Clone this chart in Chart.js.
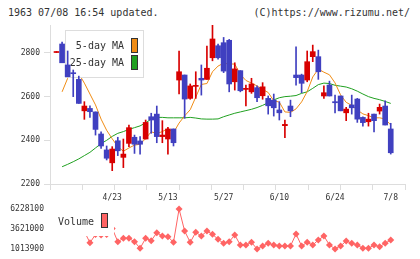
<!DOCTYPE html>
<html>
<head>
<meta charset="utf-8">
<script src="https://cdn.jsdelivr.net/npm/chart.js@4.4.1/dist/chart.umd.min.js"></script>
<style>
  body { margin: 0; background: #fff; width: 420px; height: 259px; overflow: hidden; position: relative; font-family: "DejaVu Sans Mono", monospace; }
  canvas { position: absolute; left: 0; }
  #priceChart { top: 0; }
  #volChart { top: 200px; }
  .hdr { position: absolute; top: 7px; font-size: 10px; line-height: 12px; color: #333; white-space: pre; }
</style>
</head>
<body>
<div class="hdr" style="left:8px">1963 07/08 16:54 updated.</div>
<div class="hdr" style="right:10px">(C)https://www.rizumu.net/</div>
<canvas id="priceChart" width="420" height="205"></canvas>
<canvas id="volChart" width="420" height="59"></canvas>
<script>
// daily candles, oldest first (61 trading days)
const opens = [2802, 2841, 2745, 2709, 2679, 2535, 2546, 2530, 2429, 2356,
  2297, 2398, 2322, 2386, 2414, 2397, 2406, 2508, 2520, 2417,
  2406, 2452, 2676, 2699, 2592, 2647, 2684, 2679, 2778, 2833,
  2847, 2858, 2668, 2719, 2633, 2622, 2641, 2604, 2592, 2584,
  2539, 2467, 2557, 2699, 2699, 2676, 2783, 2783, 2603, 2653,
  2577, 2603, 2526, 2562, 2589, 2505, 2485, 2520, 2534, 2557, 2452];
const highs = [2804, 2850, 2809, 2722, 2694, 2577, 2558, 2530, 2439, 2374,
  2371, 2414, 2406, 2470, 2424, 2417, 2493, 2524, 2557, 2490,
  2460, 2452, 2809, 2699, 2658, 2714, 2745, 2832, 2928, 2841,
  2871, 2862, 2755, 2719, 2653, 2684, 2649, 2664, 2603, 2612,
  2577, 2493, 2584, 2828, 2703, 2809, 2836, 2813, 2649, 2671,
  2607, 2603, 2551, 2607, 2592, 2508, 2524, 2520, 2566, 2581, 2478];
const lows = [2802, 2755, 2691, 2600, 2569, 2496, 2505, 2424, 2363, 2310,
  2261, 2330, 2275, 2371, 2340, 2337, 2406, 2432, 2389, 2389,
  2337, 2374, 2612, 2501, 2588, 2592, 2607, 2679, 2764, 2771,
  2710, 2622, 2630, 2622, 2557, 2615, 2577, 2588, 2520, 2511,
  2493, 2412, 2508, 2653, 2618, 2668, 2760, 2679, 2592, 2603,
  2526, 2535, 2490, 2520, 2482, 2465, 2465, 2439, 2520, 2470, 2337];
const closes = [2803, 2755, 2691, 2705, 2569, 2557, 2531, 2450, 2374, 2318,
  2360, 2352, 2337, 2458, 2382, 2382, 2482, 2493, 2417, 2424,
  2452, 2389, 2714, 2589, 2649, 2651, 2676, 2730, 2864, 2778,
  2717, 2658, 2727, 2627, 2638, 2658, 2595, 2645, 2558, 2549,
  2526, 2473, 2535, 2687, 2661, 2760, 2806, 2714, 2618, 2603,
  2572, 2535, 2543, 2549, 2497, 2481, 2497, 2490, 2551, 2470, 2343];

const ma5 = [null, 2622, 2684, 2712, 2705, 2662, 2612, 2562, 2497, 2446,
  2407, 2371, 2350, 2365, 2378, 2382, 2408, 2439, 2431, 2440,
  2454, 2435, 2479, 2512, 2540, 2598, 2656, 2660, 2714, 2740,
  2753, 2750, 2749, 2702, 2674, 2662, 2649, 2633, 2619, 2581,
  2575, 2530, 2528, 2544, 2576, 2623, 2690, 2726, 2712, 2700,
  2663, 2608, 2574, 2560, 2539, 2521, 2513, 2503, 2503, 2498, 2470];
const ma25 = [null, 2279, 2290, 2302, 2315, 2330, 2345, 2365, 2385, 2400,
  2418, 2432, 2440, 2450, 2458, 2466, 2480, 2497, 2505, 2505,
  2503, 2503, 2503, 2503, 2505, 2502, 2498, 2497, 2497, 2498,
  2508, 2516, 2524, 2530, 2536, 2542, 2550, 2560, 2572, 2585,
  2595, 2600, 2602, 2605, 2615, 2622, 2638, 2655, 2662, 2660,
  2652, 2648, 2644, 2636, 2625, 2612, 2600, 2592, 2586, 2578, 2569];

const volumes = [3300000, 3300000, 3350000, 3400000, 3350000, 3300000, 1835000, 2900000, 2850000, 2900000,
  3700000, 1965000, 2409000, 2409000, 1965000, 1105000, 2409000, 2096000, 3139000, 2708000,
  2617000, 1887000, 6228100, 3360000, 1887000, 3191000, 2708000, 3360000, 2930000, 2278000,
  1757000, 1965000, 2839000, 1535000, 1535000, 1887000, 1013900, 1405000, 1757000, 1535000,
  1405000, 1405000, 1405000, 2969000, 1405000, 1887000, 1535000, 2187000, 2708000, 1535000,
  1030000, 1405000, 2057000, 1757000, 1535000, 1105000, 1105000, 1535000, 1314000, 1757000, 2187000];

const dateIdx = [10, 20, 30, 40, 50, 60];
const dateLabels = ['4/23', '5/13', '5/27', '6/10', '6/24', '7/8'];
const priceTicks = [2200, 2400, 2600, 2800];
const volTicks = [1013900, 3621000, 6228100];

const RED = '#d80000';
const BLUE = '#4040c0';
const ORANGE = '#f08c14';
const GREEN = '#20a020';
const VOLCOL = '#ff6464';
const xMin = -1.17, xMax = 62.56;
const monoFont = { family: '"DejaVu Sans Mono", monospace', size: 8 };

const idx = closes.map((c, i) => i);
const candleColor = idx.map(i => closes[i] >= opens[i] ? RED : BLUE);

// legend box drawn over the MA lines but under the candles
const maLegend = {
  id: 'maLegend',
  afterDatasetDraw(chart, args) {
    if (!chart.data.datasets[args.index].legendAfter) return;
    const ctx = chart.ctx;
    ctx.save();
    ctx.fillStyle = '#fff';
    ctx.fillRect(65, 30, 78, 47);
    ctx.strokeStyle = '#ddd';
    ctx.lineWidth = 1;
    ctx.strokeRect(65.5, 30.5, 78, 47);
    ctx.font = '10px "DejaVu Sans Mono", monospace';
    ctx.textAlign = 'right';
    ctx.textBaseline = 'middle';
    [chart.data.datasets[0], chart.data.datasets[1]].forEach((ds, k) => {
      const y = 46 + k * 17;
      ctx.fillStyle = '#333';
      ctx.fillText(ds.label, 124, y);
      ctx.fillStyle = ds.borderColor;
      ctx.fillRect(131, y - 8, 7, 15);
      ctx.strokeStyle = '#333';
      ctx.strokeRect(131.5, y - 7.5, 6, 14);
    });
    ctx.restore();
  }
};

new Chart(document.getElementById('priceChart'), {
  type: 'bar',
  data: {
    datasets: [
      {
        type: 'line', label: '5-day MA', order: 2, legendAfter: true,
        data: idx.map(i => ({ x: i, y: ma5[i] })),
        borderColor: ORANGE, borderWidth: 1, pointRadius: 0, tension: 0
      },
      {
        type: 'line', label: '25-day MA', order: 3,
        data: idx.map(i => ({ x: i, y: ma25[i] })),
        borderColor: GREEN, borderWidth: 1, pointRadius: 0, tension: 0
      },
      {
        label: 'wick', order: 1,
        data: idx.map(i => ({ x: i, y: [lows[i], highs[i]] })),
        backgroundColor: candleColor, barThickness: 1, grouped: false, minBarLength: 1
      },
      {
        label: 'body', order: 0,
        data: idx.map(i => ({ x: i, y: [opens[i], closes[i]] })),
        backgroundColor: candleColor, barThickness: 5, grouped: false, minBarLength: 1
      }
    ]
  },
  options: {
    responsive: false,
    animation: false,
    devicePixelRatio: 1,
    layout: { padding: { top: 25, right: 15, left: 0, bottom: 0 } },
    plugins: { legend: { display: false }, tooltip: { enabled: false } },
    scales: {
      x: {
        type: 'linear', min: xMin, max: xMax, bounds: 'data', offset: false, weight: 0,
        grid: { drawOnChartArea: false, offset: false, color: '#ddd', tickLength: 6 },
        border: { color: '#ddd' },
        ticks: { display: false },
        afterBuildTicks: s => {
          const step = (xMax - xMin) / 11;
          s.ticks = Array.from({ length: 12 }, (_, k) => ({ value: xMin + k * step }));
        },
        afterFit: s => { s.height = 6; }
      },
      xDate: {
        type: 'linear', position: 'bottom', min: xMin, max: xMax, bounds: 'data', offset: false, weight: 1,
        grid: { display: false, drawTicks: false, offset: false },
        border: { display: false },
        ticks: {
          padding: 3, maxRotation: 0, autoSkip: false, color: '#333', font: monoFont,
          callback: v => dateLabels[dateIdx.indexOf(v)]
        },
        afterBuildTicks: s => { s.ticks = dateIdx.map(v => ({ value: v })); },
        afterFit: s => { s.height = 15; }
      },
      y: {
        type: 'linear', min: 2200, max: Math.max(...highs),
        grid: { drawOnChartArea: false, color: '#ddd', tickLength: 6 },
        border: { color: '#ddd' },
        ticks: { padding: 4, color: '#333', font: monoFont, callback: v => String(v) },
        afterBuildTicks: s => { s.ticks = priceTicks.map(v => ({ value: v })); },
        afterFit: s => { s.width = 50; }
      }
    }
  },
  plugins: [maLegend]
});

const volLegend = {
  id: 'volLegend',
  afterDatasetsDraw(chart) {
    const ctx = chart.ctx;
    ctx.save();
    ctx.fillStyle = '#fff';
    ctx.fillRect(48, 4, 66, 32);
    ctx.font = '10px "DejaVu Sans Mono", monospace';
    ctx.fillStyle = '#333';
    ctx.textAlign = 'left';
    ctx.textBaseline = 'middle';
    ctx.fillText(chart.data.datasets[0].label, 58, 22);
    ctx.fillStyle = VOLCOL;
    ctx.fillRect(101, 13, 7, 15);
    ctx.strokeStyle = '#333';
    ctx.lineWidth = 1;
    ctx.strokeRect(101.5, 13.5, 6, 14);
    ctx.restore();
  }
};

new Chart(document.getElementById('volChart'), {
  type: 'line',
  data: {
    datasets: [{
      label: 'Volume',
      data: idx.map(i => ({ x: i, y: volumes[i] })),
      borderColor: VOLCOL, borderWidth: 1, tension: 0,
      pointStyle: 'rectRot', pointRadius: 3.5, pointBackgroundColor: VOLCOL, pointBorderWidth: 0,
      clip: false
    }]
  },
  options: {
    responsive: false,
    animation: false,
    devicePixelRatio: 1,
    layout: { padding: { top: 9, right: 15, left: 0, bottom: 10 } },
    plugins: { legend: { display: false }, tooltip: { enabled: false } },
    scales: {
      x: { type: 'linear', min: xMin, max: xMax, offset: false, display: false },
      y: {
        min: volTicks[0], max: volTicks[2],
        grid: { drawOnChartArea: false, color: 'rgba(0,0,0,0)', tickLength: 6 },
        border: { display: false },
        ticks: { padding: 0, color: '#333', font: monoFont, callback: v => String(v) },
        afterBuildTicks: s => { s.ticks = volTicks.map(v => ({ value: v })); },
        afterFit: s => { s.width = 50; }
      }
    }
  },
  plugins: [volLegend]
});
</script>
</body>
</html>
